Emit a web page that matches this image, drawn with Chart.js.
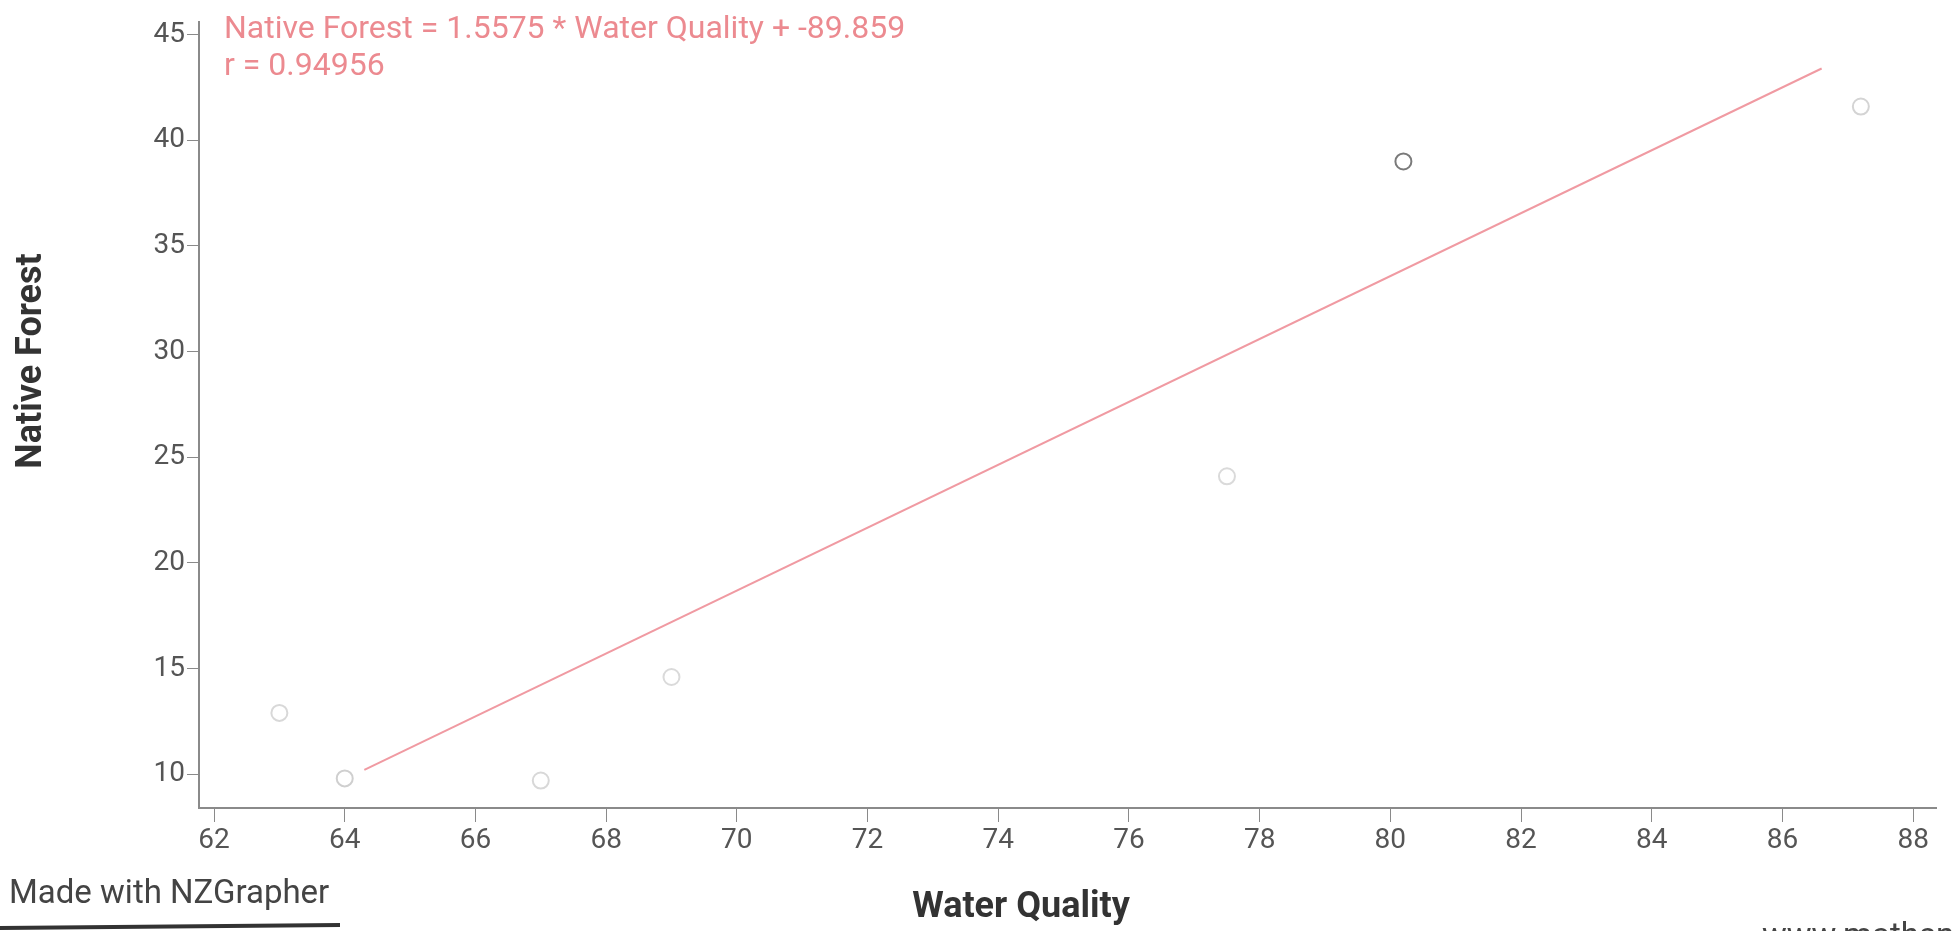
<!DOCTYPE html>
<html>
<head>
<meta charset="utf-8">
<script src="https://cdn.jsdelivr.net/npm/chart.js@4.4.0/dist/chart.umd.min.js"></script>
<style>
  html, body { margin: 0; padding: 0; background: #fff; }
  #wrap { width: 1952px; height: 931px; }
</style>
</head>
<body>
<div id="wrap"><canvas id="scatterChart" width="1952" height="931"></canvas></div>
<script>
// values
const waterQuality = [63, 64, 67, 69, 77.5, 80.2, 87.2];
const nativeForest = [12.9, 9.8, 9.7, 14.6, 24.1, 39.0, 41.6];
const pointColours = ['#d8d8d8', '#cfcfcf', '#d8d8d8', '#dadada', '#dadada', '#7a7a7a', '#d4d4d4'];

// trend line ends
const trendX = [64.3, 86.6];
const trendY = [10.2, 43.4];

const xTicks = [62, 64, 66, 68, 70, 72, 74, 76, 78, 80, 82, 84, 86, 88];
const yTicks = [10, 15, 20, 25, 30, 35, 40, 45];

const equationText = 'Native Forest = 1.5575 * Water Quality + -89.859';
const rText = 'r = 0.94956';

const pageText = {
    id: 'pageText',
    afterDraw(chart) {
        const c = chart.ctx;
        const area = chart.chartArea;
        c.save();
        c.textBaseline = 'middle';
        c.textAlign = 'left';
        c.fillStyle = '#ec8a90';
        c.font = '32px Roboto';
        c.fillText(equationText, area.left + 25, 30);
        c.fillText(rText, area.left + 25, 67);

        c.fillStyle = '#444';
        c.font = '33px Roboto';
        c.fillText('Made with NZGrapher', 9, 895);
        c.fillText('www.mathsnz.com', 1762, 938);

        // axis titles
        c.fillStyle = '#333';
        c.font = 'bold 36px Roboto';
        c.textAlign = 'center';
        c.fillText('Water Quality', 1021, 908);
        c.save();
        c.translate(32, 361);
        c.rotate(-Math.PI / 2);
        c.fillText('Native Forest', 0, 0);
        c.restore();

        // dark edge at bottom left
        c.strokeStyle = '#333';
        c.lineWidth = 4;
        c.beginPath();
        c.moveTo(0, 928);
        c.lineTo(340, 925);
        c.stroke();
        c.restore();
    }
};

const ctx = document.getElementById('scatterChart').getContext('2d');
new Chart(ctx, {
    type: 'scatter',
    data: {
        datasets: [{
            label: 'points',
            data: waterQuality.map((x, i) => ({ x: x, y: nativeForest[i] })),
            pointRadius: 8,
            pointBorderWidth: 2,
            pointBorderColor: pointColours,
            pointBackgroundColor: '#fff'
        }, {
            label: 'trend',
            type: 'line',
            data: trendX.map((x, i) => ({ x: x, y: trendY[i] })),
            borderColor: '#f09aa2',
            borderWidth: 2,
            pointRadius: 0,
            fill: false
        }]
    },
    options: {
        responsive: false,
        animation: false,
        layout: { padding: { top: 22, right: 16, left: 0, bottom: 0 } },
        plugins: {
            legend: { display: false },
            tooltip: { enabled: false }
        },
        scales: {
            x: {
                type: 'linear',
                min: 61.77,
                max: 88.35,
                afterBuildTicks: axis => { axis.ticks = xTicks.map(v => ({ value: v })); },
                afterFit: axis => { axis.height = 123; },
                grid: { drawOnChartArea: false, color: '#8a8a8a', tickLength: 14 },
                border: { color: '#8a8a8a', width: 2 },
                ticks: { color: '#555', font: { family: 'Roboto', size: 28 }, padding: 2 }
            },
            y: {
                min: 8.4,
                max: 45.6,
                afterBuildTicks: axis => { axis.ticks = yTicks.map(v => ({ value: v })); },
                afterFit: axis => { axis.width = 199; },
                grid: { drawOnChartArea: false, color: '#8a8a8a', tickLength: 12 },
                border: { color: '#8a8a8a', width: 2 },
                ticks: { color: '#555', font: { family: 'Roboto', size: 28 }, padding: 2 }
            }
        }
    },
    plugins: [pageText]
});
</script>
</body>
</html>
